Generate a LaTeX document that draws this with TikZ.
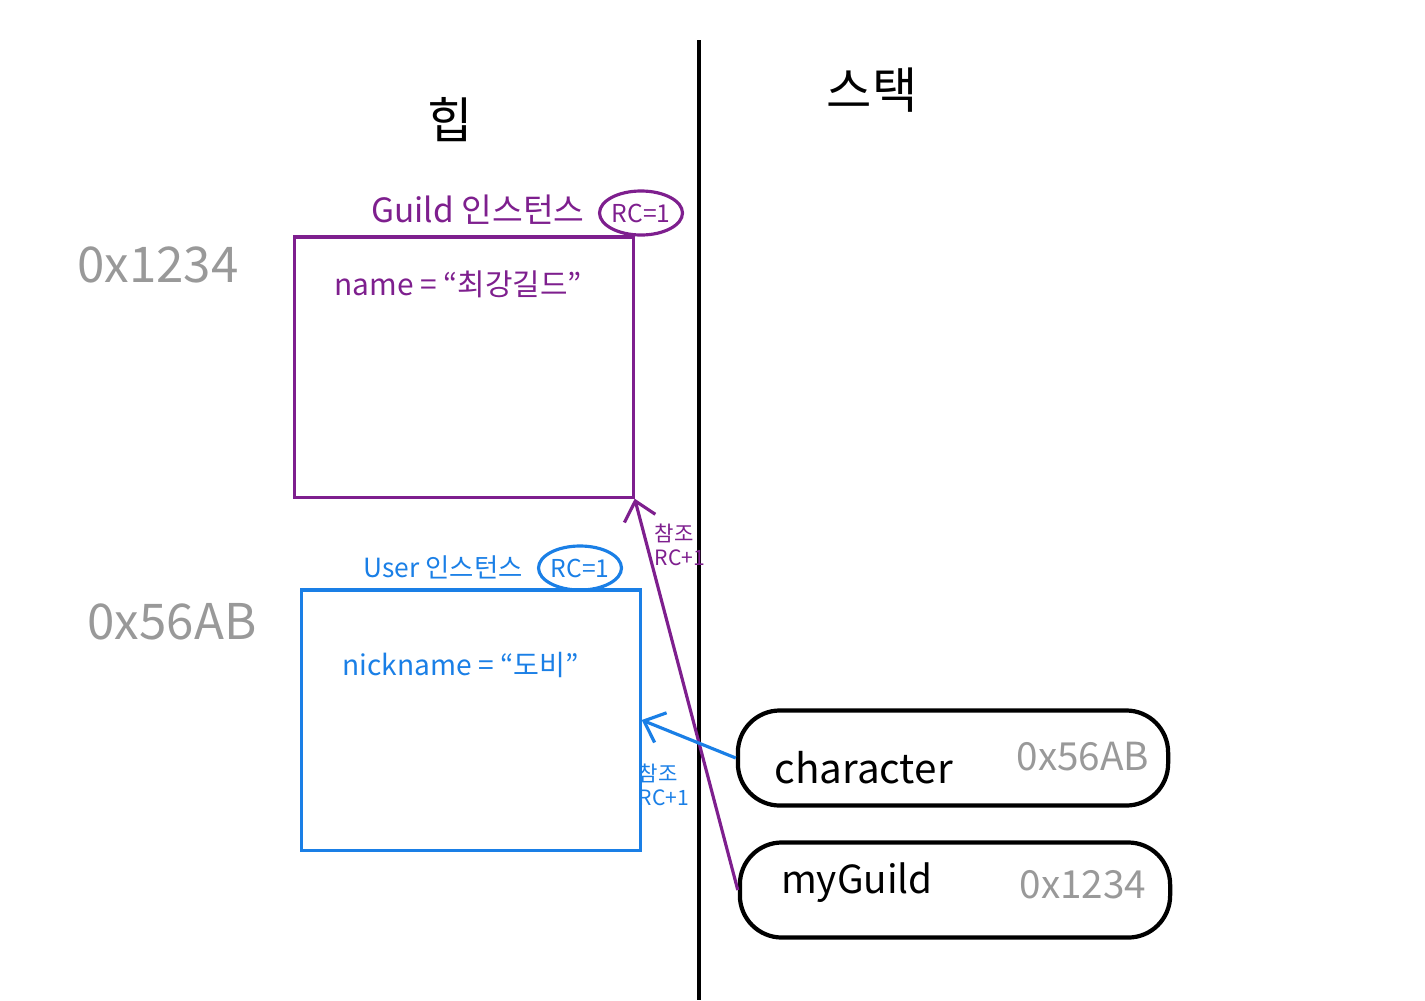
\documentclass[tikz,border=0pt]{standalone}
\usepackage{fontspec}
\setmainfont{Noto Sans CJK KR}
\usetikzlibrary{shapes.geometric,arrows.meta}
\definecolor{guildpurple}{HTML}{7E1F8E}
\definecolor{userblue}{HTML}{1A7FE6}
\definecolor{addrgray}{HTML}{999999}

\begin{document}
\begin{tikzpicture}[
    x=0.01cm, y=-0.01cm,
    >={Straight Barb[length=1.8mm,width=3.2mm]},
    box/.style={draw, line width=0.9pt, minimum width=3.38cm, minimum height=2.6cm},
    pill/.style={draw, line width=1.2pt, rounded corners=0.42cm, minimum width=4.3cm, minimum height=0.95cm},
    rc/.style={draw, ellipse, line width=0.9pt, inner sep=0pt, minimum width=0.8cm, minimum height=0.44cm, font=\fontsize{7}{8}\selectfont},
    addr/.style={text=addrgray, font=\fontsize{14}{16}\selectfont},
    note/.style={align=left, inner sep=0pt, font=\fontsize{6}{7}\selectfont}
]
\useasboundingbox (0,0) rectangle (1425,1000);

% heap / stack divider
\draw[line width=0.9pt] (699,40) -- (699,1000);
\node[font=\fontsize{14}{16}\selectfont] (heap) at (450,120) {힙};
\node[font=\fontsize{14}{16}\selectfont] (stack) at (872,90) {스택};

% Guild instance
\node[box, draw=guildpurple] (guildbox) at (464,367) {};
\node[text=guildpurple, font=\fontsize{9.5}{12}\selectfont] (guildlabel) at (478,210) {Guild 인스턴스};
\node[rc, draw=guildpurple, text=guildpurple] (guildrc) at (641,213) {RC=1};
\node[text=guildpurple, font=\fontsize{8.5}{10}\selectfont, anchor=west] (guildname) at (322,284) {name = “최강길드”};
\node[addr] (guildaddr) at (158,265) {0x1234};

% User instance
\node[box, draw=userblue] (userbox) at (471,720) {};
\node[text=userblue, font=\fontsize{7.5}{10}\selectfont] (userlabel) at (443,567) {User 인스턴스};
\node[rc, draw=userblue, text=userblue] (userrc) at (580,568) {RC=1};
\node[text=userblue, font=\fontsize{8}{10}\selectfont, anchor=west] (username) at (330,665) {nickname = “도비”};
\node[addr] (useraddr) at (172,622) {0x56AB};

% stack variables
\node[pill] (charvar) at (953,758) {};
\node[font=\fontsize{11.5}{13}\selectfont, anchor=west] (charname) at (762,768) {character};
\node[addr, font=\fontsize{11}{13}\selectfont] (charaddr) at (1083,757) {0x56AB};
\node[pill] (guildvar) at (955,890) {};
\node[font=\fontsize{11}{13}\selectfont] (guildvarname) at (857,883) {myGuild};
\node[addr, font=\fontsize{11}{13}\selectfont] (guildvaraddr) at (1083,885) {0x1234};

% references
\draw[->, guildpurple, line width=0.9pt] (guildvar.west) -- (guildbox.south east);
\node[note, text=guildpurple] (guildref) at (680,545) {참조\\RC+1};
\draw[->, userblue, line width=0.9pt] (charvar.west) -- (userbox.east);
\node[note, text=userblue] (userref) at (664,785) {참조\\RC+1};

\end{tikzpicture}
\end{document}
